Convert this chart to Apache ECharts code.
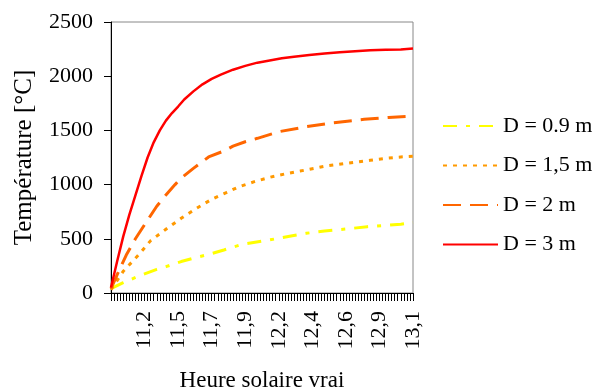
<!DOCTYPE html>
<html>
<head>
<meta charset="utf-8">
<script src="https://cdn.jsdelivr.net/npm/echarts@6/dist/echarts.min.js"></script>
<style>
  html, body { margin: 0; padding: 0; background: #fff; }
  #main { width: 600px; height: 390px; }
</style>
</head>
<body>
<div id="main"></div>
<script>
// x labels shown every 11th category (time, decimal hours)
const tickLabels = ['11,2', '11,5', '11,7', '11,9', '12,2', '12,4', '12,6', '12,9', '13,1']
const labelStep = 11
const categoryCount = 100
const categories = []
for (let i = 0; i < categoryCount; i++) {
  categories.push(i > 0 && i % labelStep === 0 ? tickLabels[i / labelStep - 1] : 'c' + i)
}

const seriesNames = ['D = 0.9 m', 'D = 1,5 m', 'D = 2 m', 'D = 3 m']

// [category index, temperature °C]
const dataD09 = [[0, 40], [4, 95], [9, 155], [15, 218], [18, 243], [23, 290], [28, 329], [32, 355], [37, 397], [43, 449],
  [50, 480], [55, 505], [59, 526], [64, 551], [70, 572], [77, 590], [84, 612], [90, 624], [95, 635], [99, 650]]
const dataD15 = [[0, 30], [4, 200], [9, 350], [13, 483], [18, 588], [23, 689], [28, 781], [33, 864], [38, 929], [42, 981],
  [47, 1027], [52, 1067], [57, 1098], [62, 1125], [71, 1174], [80, 1206], [85, 1224], [90, 1242], [95, 1255], [99, 1262]]
const dataD2 = [[0, 40], [3, 230], [5, 350], [8, 500], [11, 630], [15, 800], [18, 905], [21, 1000], [23, 1060], [27, 1150],
  [32, 1255], [37, 1310], [40, 1355], [44, 1395], [48, 1427], [55, 1488], [64, 1534], [73, 1571], [83, 1602], [91, 1620], [99, 1633]]
const dataD3 = [[0, 50], [2, 290], [4, 520], [6, 720], [8, 900], [10, 1080], [12, 1250], [14, 1390], [16, 1500], [18, 1590],
  [20, 1660], [22, 1720], [24, 1785], [27, 1860], [30, 1925], [33, 1975], [36, 2015], [40, 2060], [44, 2095], [48, 2125],
  [52, 2145], [56, 2165], [60, 2180], [65, 2195], [70, 2210], [75, 2220], [80, 2230], [85, 2240], [90, 2244], [95, 2246], [99, 2255]]

const yTicks = { min: 0, max: 2500, interval: 500 }

const font = 'Liberation Serif'
const chart = echarts.init(document.getElementById('main'))

function line (name, data, color, type, width) {
  return {
    name: name,
    type: 'line',
    data: data,
    symbol: 'none',
    lineStyle: { color: color, type: type, width: width, cap: 'butt' },
    itemStyle: { color: color }
  }
}

chart.setOption({
  animation: false,
  backgroundColor: '#fff',
  textStyle: { fontFamily: font, color: '#000' },
  grid: {
    left: 111,
    right: 187,
    top: 22,
    bottom: 97,
    containLabel: false,
    outerBoundsMode: 'none',
    show: true,
    borderColor: '#888',
    borderWidth: 1
  },
  legend: {
    orient: 'vertical',
    left: 437,
    top: 110,
    itemWidth: 55,
    itemHeight: 20,
    itemGap: 17.5,
    data: seriesNames,
    itemStyle: { opacity: 0 },
    textStyle: { fontFamily: font, fontSize: 22, color: '#000', lineHeight: 20 }
  },
  xAxis: {
    type: 'category',
    data: categories,
    boundaryGap: false,
    name: 'Heure solaire vrai',
    nameLocation: 'middle',
    nameGap: 76,
    nameTextStyle: { fontFamily: font, fontSize: 23, color: '#000' },
    axisLine: { lineStyle: { color: '#000', width: 1 } },
    axisTick: { interval: 0, length: 8, lineStyle: { color: '#000' } },
    axisLabel: {
      interval: function (idx) { return idx > 0 && idx % labelStep === 0 },
      rotate: 90,
      margin: 18,
      fontFamily: font,
      fontSize: 22,
      color: '#000'
    },
    splitLine: { show: false }
  },
  yAxis: {
    type: 'value',
    min: yTicks.min,
    max: yTicks.max,
    interval: yTicks.interval,
    name: 'Température [°C]',
    nameLocation: 'middle',
    nameGap: 74,
    nameTextStyle: { fontFamily: font, fontSize: 25, color: '#000' },
    axisLine: { show: true, lineStyle: { color: '#000', width: 1 } },
    axisTick: { show: true, length: 7, lineStyle: { color: '#000' } },
    axisLabel: {
      margin: 18,
      fontFamily: font,
      fontSize: 22,
      color: '#000',
      formatter: function (v) { return String(v) }
    },
    splitLine: { show: false }
  },
  series: [
    line(seriesNames[0], dataD09, '#FFFF00', [14, 9, 4, 9], 3),
    line(seriesNames[1], dataD15, '#FF9900', [4, 6], 3),
    line(seriesNames[2], dataD2, '#FF6600', [18, 9], 3),
    line(seriesNames[3], dataD3, '#FF0000', 'solid', 2.5)
  ]
})
</script>
</body>
</html>
